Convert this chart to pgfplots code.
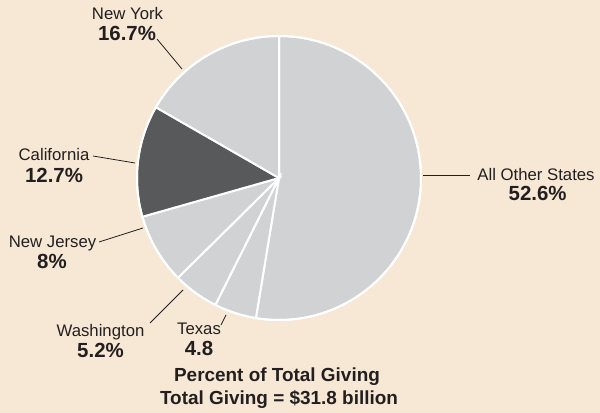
\documentclass[border=0pt]{standalone}
\usepackage{pgfplots}
\pgfplotsset{compat=1.18}
\usepackage{fontspec}
\setmainfont{Liberation Sans}
\definecolor{bg}{HTML}{F7E8D5}
\definecolor{lg}{HTML}{D1D2D4}
\definecolor{dg}{HTML}{58595B}
\definecolor{tx}{HTML}{231F20}
% slice: start cumulative %, end cumulative %, colour
\newcommand\slice[3]{%
  \addplot[fill=#3, draw=white, line width=2bp, domain=90-3.6*#2:90-3.6*#1,
    samples=120, variable=\t]
    ({279+142*cos(\t)},{235+142*sin(\t)}) -- (axis cs:279,235) -- cycle;}
\begin{document}
\begin{tikzpicture}
\fill[bg] (0,0) rectangle (600bp,413bp);
\begin{axis}[
  at={(0,0)}, anchor=south west,
  width=600bp, height=413bp, scale only axis,
  xmin=0, xmax=600, ymin=0, ymax=413,
  hide axis, clip=false]
% percentages: All Other States 52.6, Texas 4.8, Washington 5.2,
% New Jersey 8, California 12.7, New York 16.7
\slice{0}{52.6}{lg}
\slice{52.6}{57.4}{lg}
\slice{57.4}{62.6}{lg}
\slice{62.6}{70.6}{lg}
\slice{70.6}{83.3}{dg}
\slice{83.3}{100}{lg}
\draw[white, line width=2bp] (axis cs:279,235) circle[radius=142bp];
% leaders
\begin{scope}[tx, line width=0.8bp]
\draw (axis cs:157,374) -- (axis cs:182,344);
\draw (axis cs:93,257) -- (axis cs:135,250);
\draw (axis cs:99,171) -- (axis cs:143,185);
\draw (axis cs:150,90) -- (axis cs:183,123);
\draw (axis cs:221,88) -- (axis cs:226,98);
\draw (axis cs:423,238) -- (axis cs:470,238);
\end{scope}
\begin{scope}[every node/.style={text=tx, inner sep=0pt}]
\node[font=\fontsize{16.8}{17}\selectfont] at (axis cs:127.5,399) {New York};
\node[font=\fontsize{20.5}{20}\selectfont\bfseries] at (axis cs:127,380) {16.7\%};
\node[font=\fontsize{16.8}{17}\selectfont] at (axis cs:54,258) {California};
\node[font=\fontsize{20.5}{20}\selectfont\bfseries] at (axis cs:54,238) {12.7\%};
\node[font=\fontsize{16.8}{17}\selectfont] at (axis cs:52.5,170) {New Jersey};
\node[font=\fontsize{20.5}{20}\selectfont\bfseries] at (axis cs:52,152) {8\%};
\node[font=\fontsize{16.8}{17}\selectfont] at (axis cs:100.5,81) {Washington};
\node[font=\fontsize{20.5}{20}\selectfont\bfseries] at (axis cs:100.5,63) {5.2\%};
\node[font=\fontsize{16.8}{17}\selectfont] at (axis cs:199,84) {Texas};
\node[font=\fontsize{20.5}{20}\selectfont\bfseries] at (axis cs:199,65) {4.8};
\node[font=\fontsize{16.8}{17}\selectfont] at (axis cs:536,238) {All Other States};
\node[font=\fontsize{20.5}{20}\selectfont\bfseries] at (axis cs:537.7,220) {52.6\%};
\node[font=\fontsize{19}{19}\selectfont\bfseries] at (axis cs:277,36) {Percent of Total Giving};
\node[font=\fontsize{19}{19}\selectfont\bfseries] at (axis cs:279,14) {Total Giving = \$31.8 billion};
\end{scope}
\end{axis}
\useasboundingbox (0,0) rectangle (600bp,413bp);
\end{tikzpicture}
\end{document}
